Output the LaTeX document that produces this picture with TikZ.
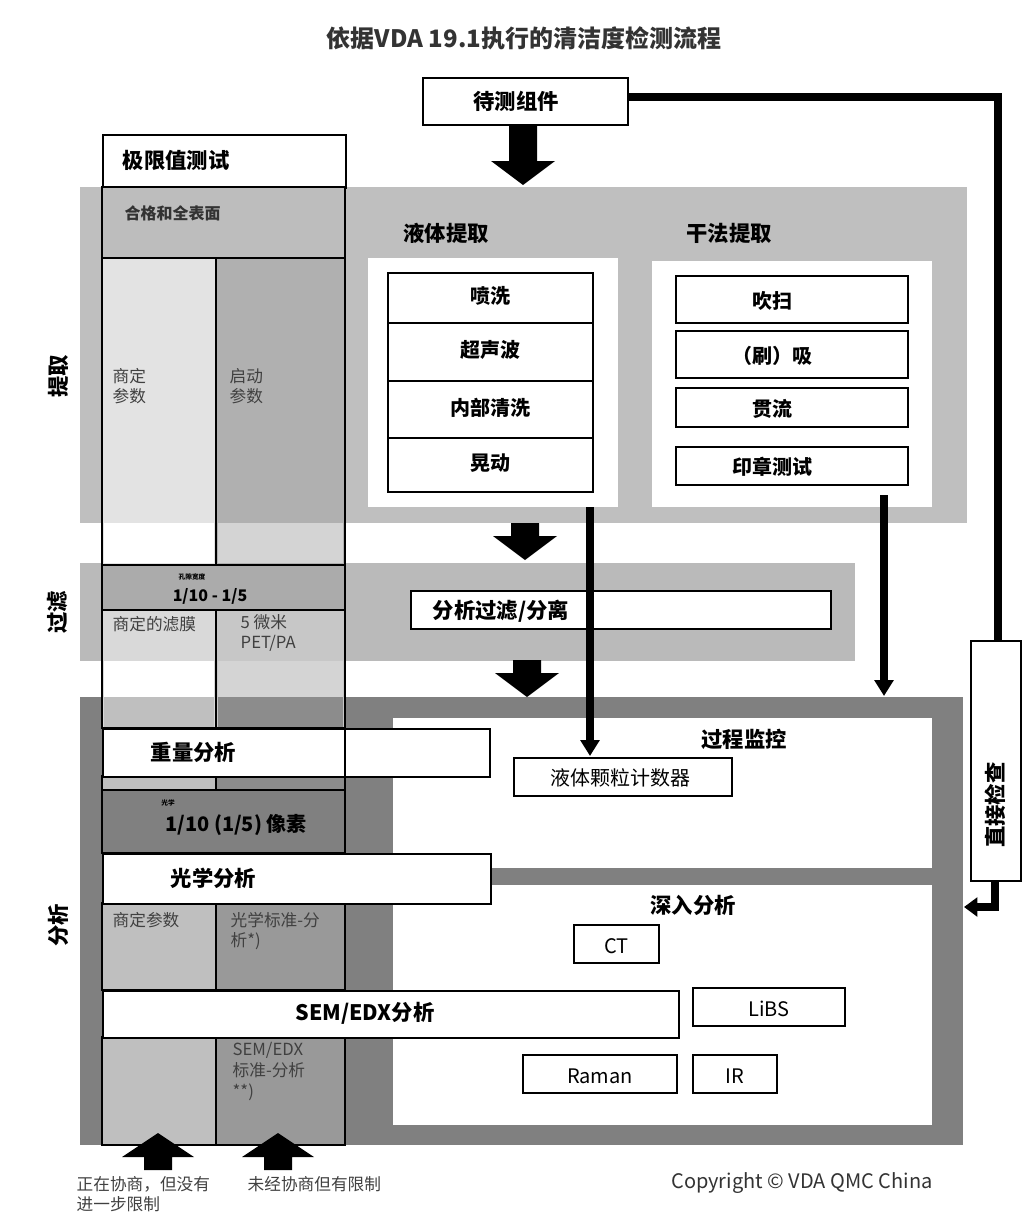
\documentclass[tikz,border=0pt]{standalone}
\usepackage{fontspec}
\setmainfont{Noto Sans CJK SC}
\usetikzlibrary{arrows.meta}
\begin{document}
\begin{tikzpicture}[x=0.75pt,y=-0.75pt,
  box/.style={draw=black,line width=1.6pt,fill=white},
  lbl/.style={font=\bfseries\fontsize{16}{18}\selectfont},
  sm/.style={font=\fontsize{12.5}{15}\selectfont,text=black!75,align=left},
  cell/.style={draw=black,line width=1.6pt}]
\useasboundingbox (0,0) rectangle (1029,1228);
\def\darrow#1#2#3{\fill (#1-14,#2) -- (#1+14,#2) -- (#1+14,#3-24) -- (#1+32,#3-24) -- (#1,#3) -- (#1-32,#3-24) -- (#1-14,#3-24) -- cycle;}
\def\uarrow#1#2#3{\fill (#1-14,#2) -- (#1+14,#2) -- (#1+14,#3+24) -- (#1+36,#3+24) -- (#1,#3) -- (#1-36,#3+24) -- (#1-14,#3+24) -- cycle;}
% title
\node[font=\bfseries\fontsize{18}{20}\selectfont,text=black!80] (title) at (524,38) {依据VDA 19.1执行的清洁度检测流程};
% bands
\fill[black!25] (80,187) rectangle (967,523);
\fill[black!27] (80,563) rectangle (855,661);
\fill[black!50] (80,697) rectangle (963,1145);
% analysis panels
\fill[white] (393,718) rectangle (932,868);
\fill[white] (393,885) rectangle (932,1125);
% left column
\node[box,minimum width=243*0.75pt,minimum height=53*0.75pt,anchor=north west] (limit) at (102,134) {};
\node[lbl,anchor=west] at (118,160) {极限值测试};
\filldraw[cell,fill=black!26] (102,187) rectangle (345,258);
\node[anchor=west,font=\bfseries\fontsize{12}{14}\selectfont,text=black!80] at (120,213) {合格和全表面};
\filldraw[cell,fill=black!11] (102,258) rectangle (216,565);
\filldraw[cell,fill=black!31] (216,258) rectangle (345,565);
\fill[white] (104,523) rectangle (214,563);
\fill[black!17] (218,523) rectangle (343,563);
\node[sm,anchor=north west] at (108,364) {商定\\参数};
\node[sm,anchor=north west] at (225,364) {启动\\参数};
\filldraw[cell,fill=black!33] (102,565) rectangle (345,610);
\node[font=\bfseries\fontsize{5}{6}\selectfont] at (192,577) {孔隙宽度};
\node[font=\bfseries\fontsize{12}{14}\selectfont] at (210,596) {1/10 - 1/5};
\filldraw[cell,fill=black!15] (102,610) rectangle (216,728);
\filldraw[cell,fill=black!22] (216,610) rectangle (345,728);
\fill[white] (104,661) rectangle (214,697);
\fill[black!17] (218,661) rectangle (343,697);
\fill[black!25] (104,697) rectangle (214,727);
\fill[black!45] (218,697) rectangle (343,727);
\node[sm,anchor=north west] at (108,612) {商定的滤膜};
\node[sm,anchor=north west] at (236,610) {5 微米\\PET/PA};
\filldraw[cell,fill=black!25] (102,776) rectangle (216,790);
\filldraw[cell,fill=black!45] (216,776) rectangle (345,790);
\node[box,minimum width=387*0.75pt,minimum height=48*0.75pt,anchor=north west] (grav) at (102,728) {};
\draw[line width=1.6pt] (345,728) -- (345,776);
\node[lbl,anchor=west] at (146,752) {重量分析};
\filldraw[cell,fill=black!50] (102,790) rectangle (345,853);
\node[font=\bfseries\fontsize{5}{6}\selectfont] at (168,803) {光学};
\node[font=\bfseries\fontsize{15}{17}\selectfont] at (236,825) {1/10 (1/5) 像素};
\filldraw[cell,fill=black!25] (102,903) rectangle (216,990);
\filldraw[cell,fill=black!40] (216,903) rectangle (345,990);
\node[sm,anchor=north west] at (108,908) {商定参数};
\node[sm,anchor=north west] at (226,908) {光学标准-分\\析*)};
\filldraw[cell,fill=black!25] (102,1037) rectangle (216,1145);
\filldraw[cell,fill=black!40] (216,1037) rectangle (345,1145);
\node[sm,anchor=north west,font=\fontsize{12.5}{15.5}\selectfont] at (228,1038) {SEM/EDX\\标准-分析\\**)};
\node[box,minimum width=388*0.75pt,minimum height=50*0.75pt,anchor=north west] (opt) at (102,853) {};
\node[lbl,anchor=west] at (166,878) {光学分析};
\node[box,minimum width=576*0.75pt,minimum height=47*0.75pt,anchor=north west] (sem) at (102,990) {};
\node[lbl] at (365,1013) {SEM/EDX分析};
% extraction
\node[lbl] (liq) at (446,233) {液体提取};
\node[lbl] (dry) at (729,233) {干法提取};
\fill[white] (368,258) rectangle (618,507);
\fill[white] (652,261) rectangle (932,507);
\foreach \a/\b/\t in {273/323/喷洗,323/381/超声波,381/438/内部清洗,438/492/晃动}
  {\filldraw[cell,line width=1.2pt,fill=white] (388,\a) rectangle (593,\b);
   \node[lbl,font=\bfseries\fontsize{15}{17}\selectfont] at (490,{(\a+\b)/2-2}) {\t};}
\foreach \a/\b/\t in {276/323/吹扫,331/378/（刷）吸,388/427/贯流,447/485/印章测试}
  {\filldraw[cell,fill=white] (676,\a) rectangle (908,\b);
   \node[lbl,font=\bfseries\fontsize{15}{17}\selectfont] at (772,{(\a+\b)/2+1}) {\t};}
% top box and arrows
\node[box,minimum width=205*0.75pt,minimum height=47*0.75pt,anchor=north west] (dut) at (422,77) {};
\node[lbl] at (516,101) {待测组件};
\darrow{523}{124}{185}
\darrow{525}{523}{560}
\darrow{527}{660}{697}
% filter
\node[box,minimum width=420*0.75pt,minimum height=38*0.75pt,anchor=north west] (filt) at (410,590) {};
\node[lbl,anchor=west] at (428,611) {分析过滤/分离};
% process monitoring
\node[lbl] at (744,739) {过程监控};
\node[box,minimum width=218*0.75pt,minimum height=38*0.75pt,anchor=north west] (lpc) at (513,757) {};
\node[font=\fontsize{15}{17}\selectfont] at (620,778) {液体颗粒计数器};
\coordinate (lq) at (590,507);
\coordinate (dq) at (884,495);
\draw[line width=6pt,-{Triangle[length=12pt,width=14pt]}] (lq) -- (590,756);
\draw[line width=6pt,-{Triangle[length=12pt,width=14pt]}] (dq) -- (884,696);
% deep analysis
\node[lbl] at (693,905) {深入分析};
\foreach \x/\y/\w/\t in {574/925/85/CT,693/988/152/LiBS,523/1055/154/Raman,693/1055/84/IR}
  {\filldraw[cell,fill=white] (\x,\y) rectangle (\x+\w,\y+38);
   \node[font=\fontsize{15}{17}\selectfont] at (\x+\w/2,\y+21) {\t};}
% direct inspection
\node[box,minimum width=50*0.75pt,minimum height=240*0.75pt,anchor=north west] (direct) at (970,640) {};
\node[lbl,rotate=90] at (995,805) {直接检查};
\draw[line width=6pt] (dut.east |- 0,97) -- (998,97) -- (direct.north -| 998,0);
\draw[line width=6pt,-{Triangle[length=10pt,width=14pt]}] (direct.south -| 995,0) -- (995,907) -- (964,907);
% side labels
\node[lbl,rotate=90] at (58,376) {提取};
\node[lbl,rotate=90] at (58,612) {过滤};
\node[lbl,rotate=90] at (58,925) {分析};
% bottom arrows
\uarrow{158}{1170}{1133}
\uarrow{278}{1170}{1133}
\node[sm,anchor=north west] at (72,1172) {正在协商，但没有\\进一步限制};
\node[sm,anchor=north west] at (243,1172) {未经协商但有限制};
\node[font=\fontsize{15}{17}\selectfont,text=black!80] at (802,1183) {Copyright © VDA QMC China};
\end{tikzpicture}
\end{document}
